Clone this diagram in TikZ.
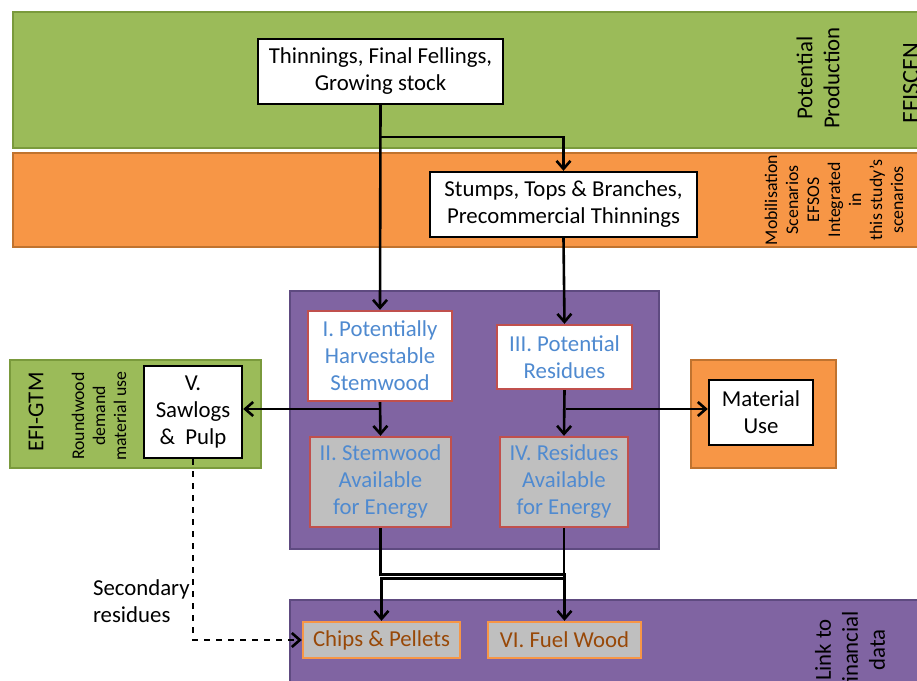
\documentclass[tikz,border=0pt]{standalone}
\usepackage{fontspec}
\setmainfont{Carlito}
\usetikzlibrary{arrows.meta}
\definecolor{bandgreen}{HTML}{9BBB59}
\definecolor{bandgreenline}{HTML}{7A9A3C}
\definecolor{bandorange}{HTML}{F79646}
\definecolor{bandorangeline}{HTML}{C0732F}
\definecolor{boxpurple}{HTML}{8064A2}
\definecolor{boxpurpleline}{HTML}{5E4A80}
\definecolor{stageline}{HTML}{C0504D}
\definecolor{stagetext}{HTML}{4F8AD0}
\definecolor{fueltext}{HTML}{984807}
\definecolor{fuelfill}{HTML}{BFBFBF}
\tikzset{
    greenband/.style = {
        fill=bandgreen, draw=bandgreenline, line width=1pt
    },
    orangeband/.style = {
        fill=bandorange, draw=bandorangeline, line width=1pt
    },
    purpleband/.style = {
        fill=boxpurple, draw=boxpurpleline, line width=1pt
    },
    source/.style = {
        rectangle, draw, fill=white, line width=1.2pt,
        align=center
    },
    stage/.style = {
        rectangle, draw=stageline, fill=white, line width=1.2pt,
        text=stagetext, align=center
    },
    energy/.style = {
        stage, fill=fuelfill
    },
    product/.style = {
        rectangle, draw=bandorange, fill=fuelfill, line width=1.2pt,
        text=fueltext, align=center
    },
    sidelabel/.style = {
        rotate=90, align=center
    },
    smalllabel/.style = {
        sidelabel, font=\fontsize{8.9}{10.5}\selectfont
    },
    arrow/.style = {
        -{Straight Barb[length=4pt,width=7pt]}, line width=1.3pt
    }
}

\begin{document}
\begin{tikzpicture}[x=0.5pt, y=-0.5pt, font=\fontsize{11.4}{13.5}\selectfont]

\clip (0,0) rectangle (917,681);

% bands
\draw [greenband] (13,12) rectangle (930,148);
\draw [orangeband] (13,153) rectangle (930,247);
\draw [purpleband] (290,291) rectangle (659,549);
\draw [greenband] (10,360) rectangle (261,468);
\draw [orangeband] (691,360) rectangle (836,468);
\draw [purpleband] (290,600) rectangle (930,700);

% side texts
\node (potprod) [sidelabel] at (818,78) {Potential\\Production};
\node (efiscen) [sidelabel, font=\fontsize{12.2}{14}\selectfont] at (911,83) {EFISCEN};
\node (mobil) [smalllabel] at (834,200) {Mobilisation\\Scenarios\\EFSOS\\Integrated\\in\\this study’s\\scenarios};
\node (efigtm) [sidelabel] at (36,412) {EFI-GTM};
\node (roundwood) [smalllabel] at (99,416) {Roundwood\\demand\\material use};
\node (linkfin) [sidelabel] at (850,650) {Link to\\financial\\data};

% boxes
\node (fellings) [source, minimum width=122.5pt, minimum height=32.5pt] at (380.5,71.5) {Thinnings, Final Fellings,\\Growing stock};
\node (stumps) [source, minimum width=133.5pt, minimum height=32.5pt] at (563.5,204.5) {Stumps, Tops \& Branches,\\Precommercial Thinnings};
\node (harvest) [stage, minimum width=72pt, minimum height=45pt] at (380,356) {I. Potentially\\Harvestable\\Stemwood};
\node (residues) [stage, minimum width=67.5pt, minimum height=32pt] at (564.5,357) {III. Potential\\Residues};
\node (stemenergy) [energy, minimum width=70.5pt, minimum height=45pt] at (380.5,482) {II. Stemwood\\Available\\for Energy};
\node (resenergy) [energy, minimum width=64pt, minimum height=45pt] at (564,482) {IV. Residues\\Available\\for Energy};
\node (sawlogs) [source, minimum width=49pt, minimum height=46pt] at (193,412) {V.\\Sawlogs\\\&~~Pulp};
\node (material) [source, minimum width=52pt, minimum height=32.5pt] at (761,412.5) {Material\\Use};
\node (chips) [product, minimum width=78.5pt, minimum height=18pt] at (381.5,640) {Chips \& Pellets};
\node (fuelwood) [product, minimum width=76.5pt, minimum height=18pt] at (564.5,640) {VI. Fuel Wood};
\node (secondary) [anchor=west, align=left] at (86,601) {Secondary\\residues};

\coordinate (topsplit) at (380,137);
\coordinate (leftsplit) at (380,409);
\coordinate (rightsplit) at (566,409);

% connectors
\draw [arrow] (fellings.south) -- (harvest.north);
\draw [arrow] (topsplit) -| (stumps.north);
\draw [arrow] (stumps.south) -- (residues.north);
\draw [arrow] (harvest.south) -- (stemenergy.north);
\draw [arrow] (residues.south) -- (resenergy.north);
\draw [arrow] (leftsplit) -- (leftsplit -| sawlogs.east);
\draw [arrow] (rightsplit) -- (rightsplit -| material.west);
\draw [arrow] (stemenergy.south) -- ++(0,46) -| (fuelwood.north);
\draw [arrow] (resenergy.south) -- ++(0,50) -| (chips.north);
\draw [arrow, dashed] (sawlogs.south) |- (chips.west);

\end{tikzpicture}
\end{document}
